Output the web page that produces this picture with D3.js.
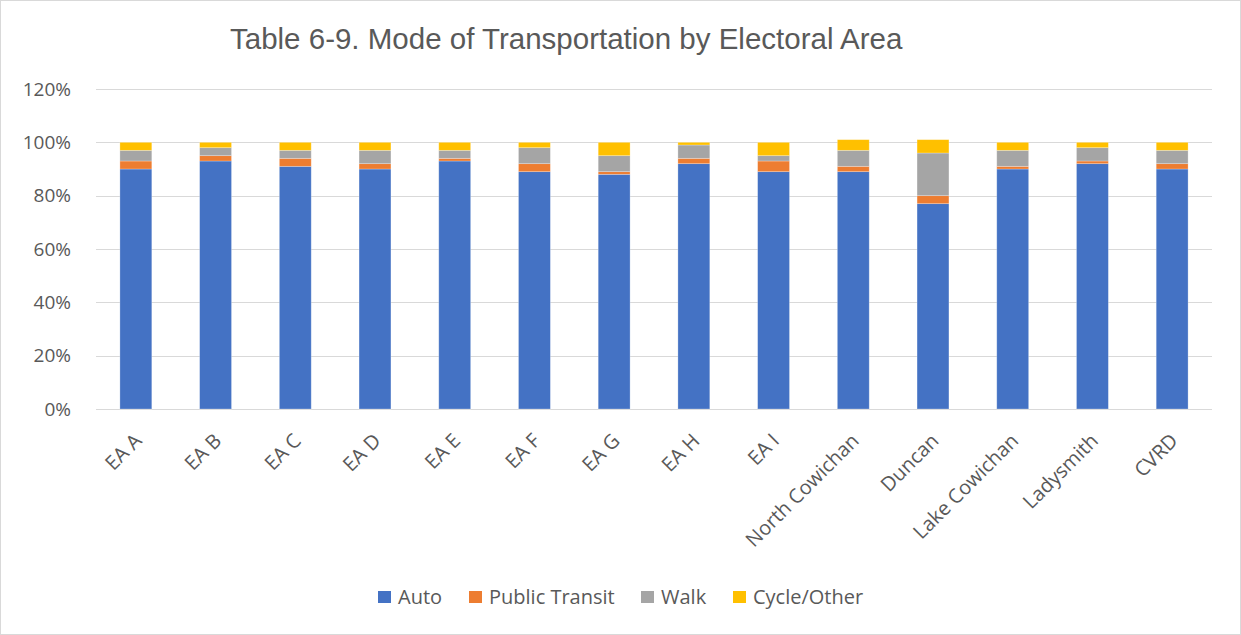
<!DOCTYPE html>
<html>
<head>
<meta charset="utf-8">
<script src="https://cdn.jsdelivr.net/npm/d3@7/dist/d3.min.js"></script>
<style>
  body { margin: 0; background: #fff; }
  svg text { font-family: "Open Sans", "Noto Sans", sans-serif; }
</style>
</head>
<body>
<div id="chart"></div>
<script>
// data (percent of commuters)
var areas = ["EA A", "EA B", "EA C", "EA D", "EA E", "EA F", "EA G", "EA H", "EA I",
             "North Cowichan", "Duncan", "Lake Cowichan", "Ladysmith", "CVRD"];
var auto      = [90, 93, 91, 90, 93, 89, 88, 92, 89, 89, 77, 90, 92, 90];
var transit   = [ 3,  2,  3,  2,  1,  3,  1,  2,  4,  2,  3,  1,  1,  2];
var walk      = [ 4,  3,  3,  5,  3,  6,  6,  5,  2,  6, 16,  6,  5,  5];
var cycle     = [ 3,  2,  3,  3,  3,  2,  5,  1,  5,  4,  5,  3,  2,  3];
var seriesNames  = ["Auto", "Public Transit", "Walk", "Cycle/Other"];
var seriesColors = ["#4472c4", "#ed7d31", "#a5a5a5", "#ffc000"];
var yTicks = [0, 20, 40, 60, 80, 100, 120];

var W = 1241, H = 635;
var margin = {top: 89, right: 29, bottom: 226, left: 96};
var width = W - margin.left - margin.right,
    height = H - margin.top - margin.bottom;

var rows = areas.map(function (a, i) {
  return {area: a, "Auto": auto[i], "Public Transit": transit[i], "Walk": walk[i], "Cycle/Other": cycle[i]};
});

var svg = d3.select("#chart").append("svg")
  .attr("width", W).attr("height", H);

// outer frame
svg.append("rect")
  .attr("x", 0.5).attr("y", 0.5)
  .attr("width", W - 1).attr("height", H - 1)
  .attr("fill", "#fff").attr("stroke", "#d9d9d9");

var g = svg.append("g")
  .attr("transform", "translate(" + margin.left + "," + margin.top + ")");

var x = d3.scaleBand().domain(areas).range([0, width]).paddingInner(0.6).paddingOuter(0.3);
var y = d3.scaleLinear().domain([0, 120]).range([height, 0]);

// gridlines
g.append("g").selectAll("line")
  .data(yTicks)
  .enter().append("line")
  .attr("x1", 0).attr("x2", width)
  .attr("y1", function (d) { return Math.round(y(d)) + 0.5; })
  .attr("y2", function (d) { return Math.round(y(d)) + 0.5; })
  .attr("stroke", "#d9d9d9").attr("stroke-width", 1);

// y axis labels
var yAxis = d3.axisLeft(y).tickValues(yTicks).tickSize(0).tickPadding(25)
  .tickFormat(function (d) { return d + "%"; });
g.append("g").call(yAxis)
  .call(function (s) { s.select(".domain").remove(); })
  .selectAll("text")
  .attr("font-size", 19).attr("fill", "#595959")
  .style("font-family", "'Open Sans', sans-serif");

// stacked bars
var stack = d3.stack().keys(seriesNames);
var layers = stack(rows);

g.append("g").selectAll("g")
  .data(layers)
  .enter().append("g")
  .attr("fill", function (d, i) { return seriesColors[i]; })
  .selectAll("rect")
  .data(function (d) { return d; })
  .enter().append("rect")
  .attr("x", function (d) { return x(d.data.area); })
  .attr("y", function (d) { return y(d[1]); })
  .attr("width", x.bandwidth())
  .attr("height", function (d) { return y(d[0]) - y(d[1]); })
  .attr("stroke", "#fff").attr("stroke-opacity", 0.35).attr("stroke-width", 0.75);

// x axis labels, rotated
var xAxis = d3.axisBottom(x).tickSize(0).tickPadding(0);
var xa = g.append("g").attr("transform", "translate(0," + height + ")").call(xAxis);
xa.select(".domain").remove();
xa.selectAll("text")
  .attr("font-size", 20).attr("fill", "#595959")
  .attr("text-anchor", "end")
  .attr("dy", 0).attr("y", 0)
  .attr("transform", "translate(7,33) rotate(-45)");

// title
svg.append("text")
  .attr("x", 230).attr("y", 49)
  .attr("font-size", 29.5).attr("fill", "#595959")
  .style("font-family", "'Liberation Sans', Arial, sans-serif")
  .text("Table 6-9. Mode of Transportation by Electoral Area");

// legend
var legendX = [378, 469, 641, 733];
var legend = svg.append("g").selectAll("g")
  .data(seriesNames)
  .enter().append("g")
  .attr("transform", function (d, i) { return "translate(" + legendX[i] + ",591)"; });
legend.append("rect")
  .attr("width", 13).attr("height", 12)
  .attr("fill", function (d, i) { return seriesColors[i]; });
legend.append("text")
  .attr("x", 20).attr("y", 13)
  .attr("font-size", 20).attr("fill", "#595959")
  .text(function (d) { return d; });
</script>
</body>
</html>
